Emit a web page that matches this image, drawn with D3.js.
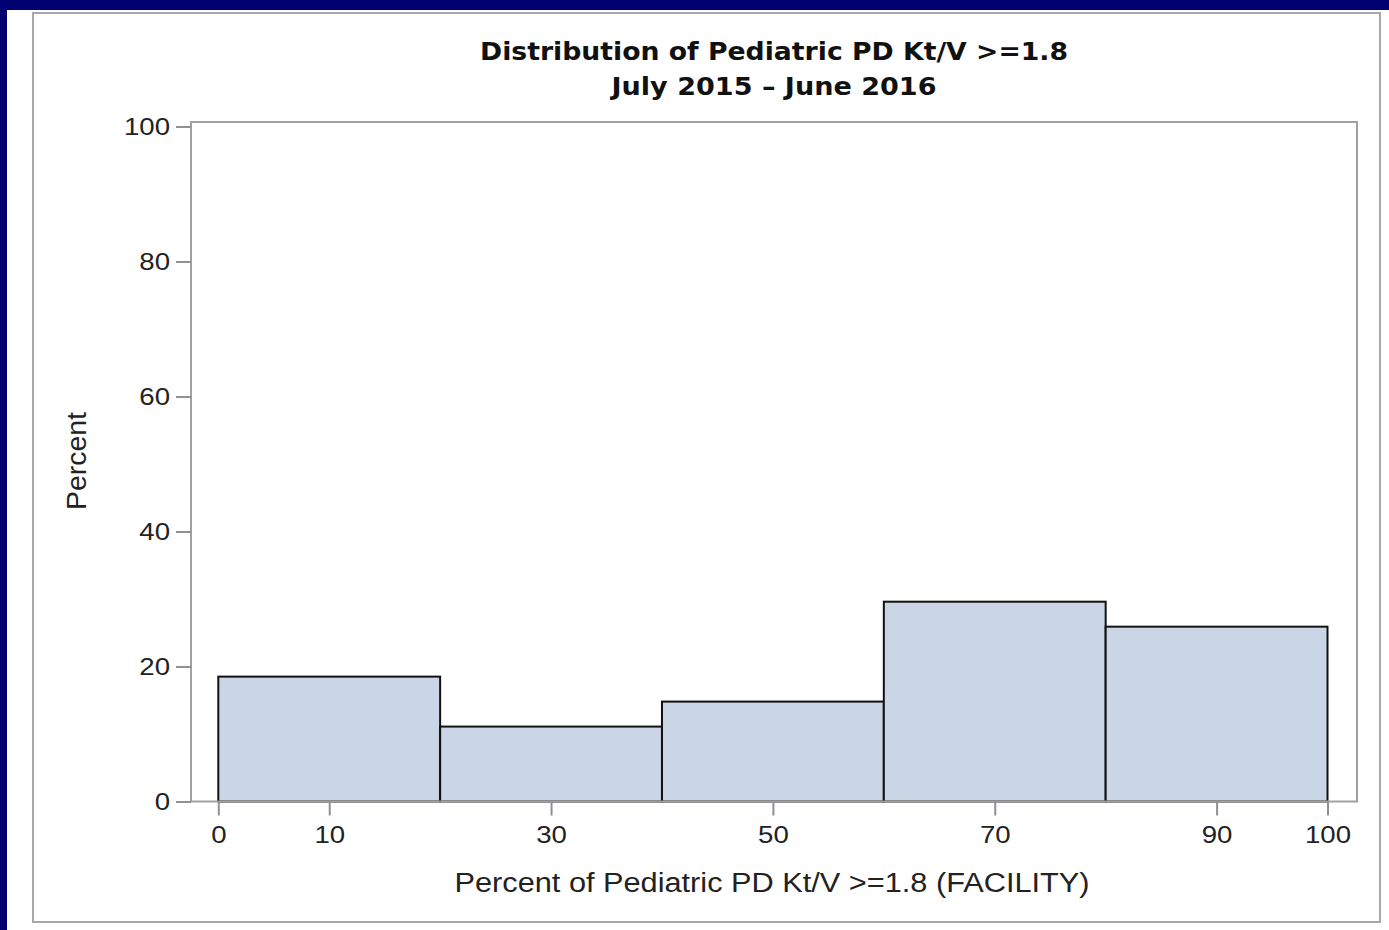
<!DOCTYPE html>
<html><head><meta charset="utf-8">
<script src="https://cdn.jsdelivr.net/npm/d3@7"></script>
<style>
html,body{margin:0;padding:0;background:#000070;}
svg{display:block;}
</style></head>
<body>
<svg id="chart" width="1389" height="930"></svg>
<script>
const titleLines = ["Distribution of Pediatric PD Kt/V >=1.8", "July 2015 \u2013 June 2016"];
const xLabel = "Percent of Pediatric PD Kt/V >=1.8 (FACILITY)";
const yLabel = "Percent";
const binStarts = [0, 20, 40, 60, 80];
const binEnds = [20, 40, 60, 80, 100];
const percents = [18.5, 11.1, 14.8, 29.6, 25.9];
const xTicks = [0, 10, 30, 50, 70, 90, 100];
const yTicks = [0, 20, 40, 60, 80, 100];

const svg = d3.select("#chart");
svg.append("rect").attr("x",0).attr("y",0).attr("width",1389).attr("height",930).attr("fill","#000070");
svg.append("rect").attr("x",7).attr("y",10).attr("width",1382).attr("height",920).attr("fill","#ffffff");
svg.append("rect").attr("x",33).attr("y",13).attr("width",1347).attr("height",909)
  .attr("fill","none").attr("stroke","#a8a8a8").attr("stroke-width",2);

const frame = {l:191, t:122, r:1357, b:801.5};
const x = d3.scaleLinear().domain([0,100]).range([218.3,1327.5]);
const y = d3.scaleLinear().domain([0,100]).range([801.5,126.5]);

const bins = percents.map((v,i)=>({x0:binStarts[i], x1:binEnds[i], v}));
svg.append("g").selectAll("rect").data(bins).join("rect")
  .attr("x", d=>x(d.x0)).attr("width", d=>x(d.x1)-x(d.x0))
  .attr("y", d=>y(d.v)).attr("height", d=>y(0)-y(d.v))
  .attr("fill","#cad5e5").attr("stroke","#111").attr("stroke-width",2);

svg.append("rect").attr("x",frame.l).attr("y",frame.t)
  .attr("width",frame.r-frame.l).attr("height",frame.b-frame.t)
  .attr("fill","none").attr("stroke","#a0a0a0").attr("stroke-width",2);

function stretch(sel, k){
  sel.each(function(){
    const w = this.getComputedTextLength();
    d3.select(this).attr("textLength", w*k).attr("lengthAdjust","spacingAndGlyphs");
  });
}

const yAxis = d3.axisLeft(y).tickValues(yTicks).tickSize(15).tickPadding(6).tickSizeOuter(0);
const gy = svg.append("g").attr("transform",`translate(${frame.l},0)`).call(yAxis);
gy.select(".domain").remove();
gy.selectAll(".tick line").attr("stroke","#909090").attr("stroke-width",2);
gy.selectAll(".tick text").attr("font-family","Liberation Sans, Arial, sans-serif")
  .attr("font-size",24).attr("fill","#222").attr("dy","0.35em");
stretch(gy.selectAll(".tick text"), 1.15);

const xAxis = d3.axisBottom(x).tickValues(xTicks).tickSize(14).tickPadding(10).tickSizeOuter(0);
const gx = svg.append("g").attr("transform",`translate(0,${frame.b})`).call(xAxis);
gx.select(".domain").remove();
gx.selectAll(".tick line").attr("stroke","#909090").attr("stroke-width",2);
gx.selectAll(".tick text").attr("font-family","Liberation Sans, Arial, sans-serif")
  .attr("font-size",24).attr("fill","#222");
stretch(gx.selectAll(".tick text"), 1.15);

const titleWidths = [588, 325];
svg.append("g").selectAll("text").data(titleLines).join("text")
  .attr("x",774).attr("y",(d,i)=>60+i*35).attr("text-anchor","middle")
  .attr("font-family","DejaVu Sans, Verdana, sans-serif").attr("font-weight","bold")
  .attr("font-size",24).attr("fill","#111")
  .attr("textLength",(d,i)=>titleWidths[i]).attr("lengthAdjust","spacingAndGlyphs")
  .text(d=>d);

svg.append("text").attr("x",772).attr("y",892).attr("text-anchor","middle")
  .attr("font-family","Liberation Sans, Arial, sans-serif").attr("font-size",27)
  .attr("textLength",635).attr("lengthAdjust","spacingAndGlyphs")
  .attr("fill","#222").text(xLabel);

svg.append("text").attr("transform","translate(86,461) rotate(-90)").attr("text-anchor","middle")
  .attr("font-family","Liberation Sans, Arial, sans-serif").attr("font-size",27)
  .attr("textLength",98).attr("lengthAdjust","spacingAndGlyphs")
  .attr("fill","#222").text(yLabel);
</script>
</body></html>
